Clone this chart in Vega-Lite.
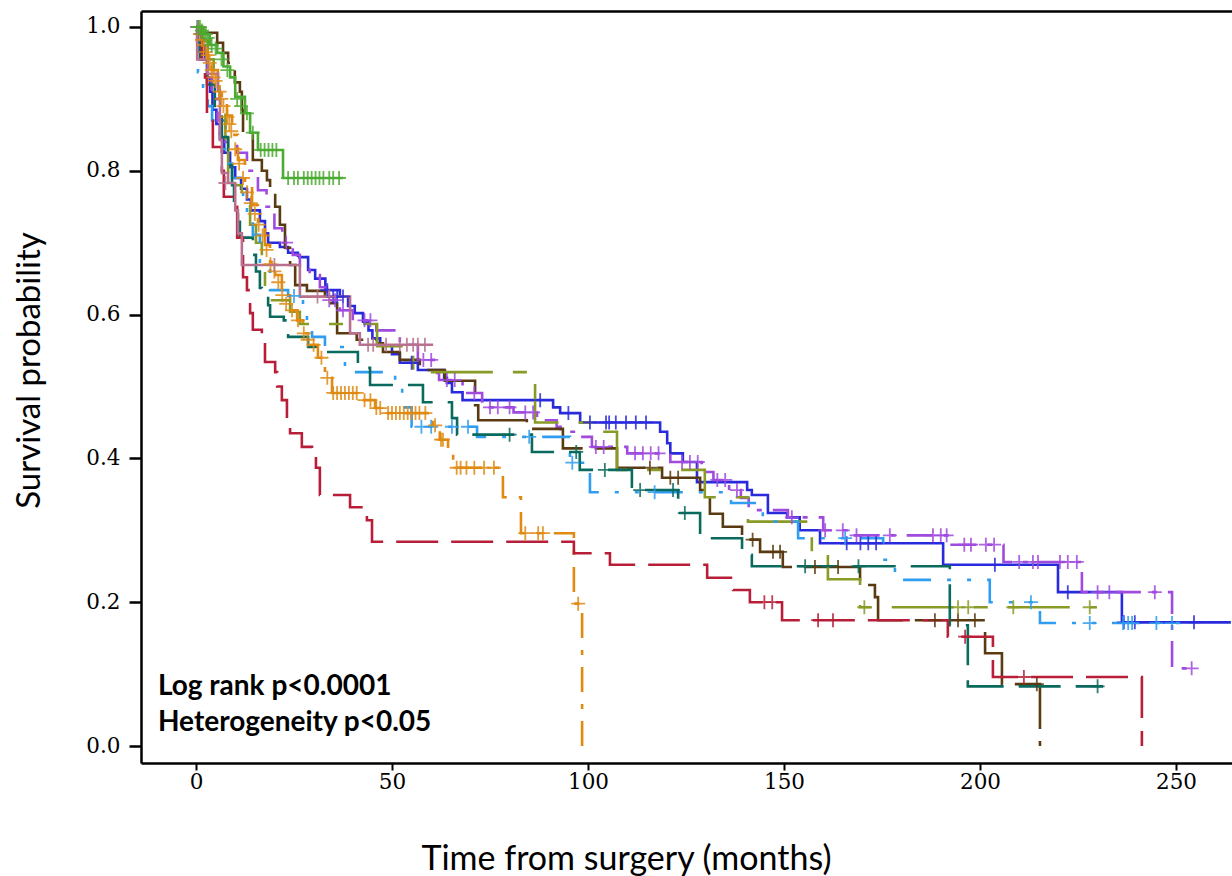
{
  "$schema": "https://vega.github.io/schema/vega-lite/v6.json",
  "width": 1091,
  "height": 752,
  "autosize": {"type": "none"},
  "padding": {"left": 141, "top": 11, "right": 0, "bottom": 113},
  "background": "white",
  "config": {
    "view": {"stroke": null},
    "axis": {"domainColor": "black", "domainWidth": 2.5, "tickColor": "black", "tickWidth": 2, "labelColor": "black", "titleColor": "black", "grid": false}
  },
  "datasets": {
    "curves": [
      {"g":"g1","t":0,"s":1.0},{"g":"g1","t":1,"s":0.99},{"g":"g1","t":1.5,"s":0.975},{"g":"g1","t":2.3,"s":0.955},{"g":"g1","t":2.8,"s":0.93},{"g":"g1","t":3.6,"s":0.91},{"g":"g1","t":4.2,"s":0.885},{"g":"g1","t":5.2,"s":0.865},{"g":"g1","t":6.1,"s":0.845},{"g":"g1","t":7.2,"s":0.825},{"g":"g1","t":8.7,"s":0.805},{"g":"g1","t":10,"s":0.79},{"g":"g1","t":11.5,"s":0.775},{"g":"g1","t":13,"s":0.76},{"g":"g1","t":14,"s":0.745},{"g":"g1","t":16.3,"s":0.73},{"g":"g1","t":17.6,"s":0.713},{"g":"g1","t":18.4,"s":0.70},{"g":"g1","t":21.4,"s":0.694},{"g":"g1","t":23.5,"s":0.686},{"g":"g1","t":26,"s":0.68},{"g":"g1","t":28.6,"s":0.662},{"g":"g1","t":30.4,"s":0.65},{"g":"g1","t":33,"s":0.634},{"g":"g1","t":36.7,"s":0.625},{"g":"g1","t":38.8,"s":0.612},{"g":"g1","t":40.5,"s":0.602},{"g":"g1","t":42.6,"s":0.59},{"g":"g1","t":44,"s":0.578},{"g":"g1","t":45,"s":0.567},{"g":"g1","t":47,"s":0.557},{"g":"g1","t":50,"s":0.545},{"g":"g1","t":52,"s":0.533},{"g":"g1","t":56.6,"s":0.523},{"g":"g1","t":63.3,"s":0.512},{"g":"g1","t":64,"s":0.505},{"g":"g1","t":65.3,"s":0.492},{"g":"g1","t":68,"s":0.481},{"g":"g1","t":91.1,"s":0.471},{"g":"g1","t":92.9,"s":0.463},{"g":"g1","t":98,"s":0.45},{"g":"g1","t":118.4,"s":0.437},{"g":"g1","t":120.2,"s":0.421},{"g":"g1","t":121,"s":0.407},{"g":"g1","t":124.2,"s":0.395},{"g":"g1","t":127.8,"s":0.367},{"g":"g1","t":140.6,"s":0.356},{"g":"g1","t":141.8,"s":0.349},{"g":"g1","t":145.9,"s":0.324},{"g":"g1","t":150.8,"s":0.318},{"g":"g1","t":154,"s":0.30},{"g":"g1","t":159.2,"s":0.282},{"g":"g1","t":190.6,"s":0.252},{"g":"g1","t":219.9,"s":0.214},{"g":"g1","t":236.2,"s":0.172},{"g":"g1","t":264,"s":0.172},

      {"g":"g2","t":0,"s":1.0},{"g":"g2","t":0.8,"s":0.99},{"g":"g2","t":1.5,"s":0.955},{"g":"g2","t":3,"s":0.93},{"g":"g2","t":4,"s":0.9},{"g":"g2","t":5.5,"s":0.87},{"g":"g2","t":7.5,"s":0.84},{"g":"g2","t":10.5,"s":0.825},{"g":"g2","t":13,"s":0.80},{"g":"g2","t":15.8,"s":0.773},{"g":"g2","t":18,"s":0.75},{"g":"g2","t":20,"s":0.72},{"g":"g2","t":22,"s":0.70},{"g":"g2","t":24.7,"s":0.683},{"g":"g2","t":26.5,"s":0.666},{"g":"g2","t":29,"s":0.655},{"g":"g2","t":31.6,"s":0.638},{"g":"g2","t":33.4,"s":0.62},{"g":"g2","t":36.7,"s":0.606},{"g":"g2","t":40,"s":0.592},{"g":"g2","t":46,"s":0.578},{"g":"g2","t":52,"s":0.558},{"g":"g2","t":56.6,"s":0.537},{"g":"g2","t":61.5,"s":0.519},{"g":"g2","t":62,"s":0.509},{"g":"g2","t":68,"s":0.491},{"g":"g2","t":73,"s":0.471},{"g":"g2","t":81,"s":0.464},{"g":"g2","t":87,"s":0.453},{"g":"g2","t":92,"s":0.444},{"g":"g2","t":93,"s":0.437},{"g":"g2","t":98,"s":0.43},{"g":"g2","t":101,"s":0.416},{"g":"g2","t":110,"s":0.407},{"g":"g2","t":121,"s":0.395},{"g":"g2","t":129,"s":0.381},{"g":"g2","t":132,"s":0.37},{"g":"g2","t":136,"s":0.356},{"g":"g2","t":139,"s":0.345},{"g":"g2","t":141,"s":0.328},{"g":"g2","t":151,"s":0.318},{"g":"g2","t":160,"s":0.30},{"g":"g2","t":167,"s":0.293},{"g":"g2","t":192.3,"s":0.28},{"g":"g2","t":206,"s":0.256},{"g":"g2","t":226,"s":0.214},{"g":"g2","t":249,"s":0.108},{"g":"g2","t":254.3,"s":0.108},

      {"g":"g3","t":0,"s":1.0},{"g":"g3","t":1.8,"s":0.992},{"g":"g3","t":5.4,"s":0.978},{"g":"g3","t":6.9,"s":0.964},{"g":"g3","t":8.2,"s":0.95},{"g":"g3","t":9.9,"s":0.923},{"g":"g3","t":11.2,"s":0.91},{"g":"g3","t":11.7,"s":0.885},{"g":"g3","t":12,"s":0.854},{"g":"g3","t":14.5,"s":0.815},{"g":"g3","t":16.8,"s":0.80},{"g":"g3","t":18.1,"s":0.787},{"g":"g3","t":18.9,"s":0.77},{"g":"g3","t":20.2,"s":0.75},{"g":"g3","t":21.4,"s":0.725},{"g":"g3","t":22.7,"s":0.693},{"g":"g3","t":24,"s":0.669},{"g":"g3","t":25.3,"s":0.641},{"g":"g3","t":28.3,"s":0.633},{"g":"g3","t":32.9,"s":0.616},{"g":"g3","t":36,"s":0.574},{"g":"g3","t":41,"s":0.565},{"g":"g3","t":46.2,"s":0.56},{"g":"g3","t":47.7,"s":0.548},{"g":"g3","t":52,"s":0.537},{"g":"g3","t":57.1,"s":0.523},{"g":"g3","t":63.5,"s":0.508},{"g":"g3","t":71.2,"s":0.474},{"g":"g3","t":72,"s":0.453},{"g":"g3","t":84.4,"s":0.441},{"g":"g3","t":93.6,"s":0.414},{"g":"g3","t":107.4,"s":0.387},{"g":"g3","t":118.9,"s":0.373},{"g":"g3","t":128.6,"s":0.356},{"g":"g3","t":131.1,"s":0.323},{"g":"g3","t":134.4,"s":0.305},{"g":"g3","t":139.3,"s":0.287},{"g":"g3","t":143.9,"s":0.27},{"g":"g3","t":149.7,"s":0.249},{"g":"g3","t":169.4,"s":0.224},{"g":"g3","t":173.2,"s":0.207},{"g":"g3","t":174,"s":0.175},{"g":"g3","t":201.3,"s":0.129},{"g":"g3","t":205.6,"s":0.086},{"g":"g3","t":215.3,"s":0.0},

      {"g":"g4","t":0,"s":1.0},{"g":"g4","t":1.5,"s":0.98},{"g":"g4","t":3,"s":0.955},{"g":"g4","t":4.5,"s":0.92},{"g":"g4","t":6,"s":0.88},{"g":"g4","t":7.5,"s":0.845},{"g":"g4","t":8.2,"s":0.797},{"g":"g4","t":10.5,"s":0.78},{"g":"g4","t":11.7,"s":0.76},{"g":"g4","t":13.8,"s":0.725},{"g":"g4","t":15.3,"s":0.70},{"g":"g4","t":16.8,"s":0.665},{"g":"g4","t":17.6,"s":0.62},{"g":"g4","t":24,"s":0.604},{"g":"g4","t":26.5,"s":0.587},{"g":"g4","t":46.2,"s":0.556},{"g":"g4","t":55.4,"s":0.52},{"g":"g4","t":86.5,"s":0.45},{"g":"g4","t":103.8,"s":0.437},{"g":"g4","t":107.4,"s":0.384},{"g":"g4","t":129.8,"s":0.346},{"g":"g4","t":140.8,"s":0.312},{"g":"g4","t":157.1,"s":0.27},{"g":"g4","t":161.2,"s":0.232},{"g":"g4","t":169.4,"s":0.193},{"g":"g4","t":229.8,"s":0.193},

      {"g":"g5","t":0,"s":1.0},{"g":"g5","t":0.5,"s":0.937},{"g":"g5","t":1.8,"s":0.91},{"g":"g5","t":3,"s":0.89},{"g":"g5","t":4.1,"s":0.87},{"g":"g5","t":4.8,"s":0.853},{"g":"g5","t":6,"s":0.83},{"g":"g5","t":7.4,"s":0.81},{"g":"g5","t":9.2,"s":0.79},{"g":"g5","t":11.2,"s":0.773},{"g":"g5","t":12,"s":0.764},{"g":"g5","t":13,"s":0.736},{"g":"g5","t":14.5,"s":0.711},{"g":"g5","t":16.3,"s":0.666},{"g":"g5","t":18.9,"s":0.634},{"g":"g5","t":23.5,"s":0.626},{"g":"g5","t":27.3,"s":0.60},{"g":"g5","t":28.3,"s":0.59},{"g":"g5","t":29.6,"s":0.569},{"g":"g5","t":32.9,"s":0.555},{"g":"g5","t":38,"s":0.52},{"g":"g5","t":50.8,"s":0.50},{"g":"g5","t":52.6,"s":0.471},{"g":"g5","t":55,"s":0.444},{"g":"g5","t":71.7,"s":0.43},{"g":"g5","t":95.4,"s":0.394},{"g":"g5","t":100.5,"s":0.353},{"g":"g5","t":136.5,"s":0.338},{"g":"g5","t":144.6,"s":0.312},{"g":"g5","t":153.6,"s":0.289},{"g":"g5","t":175.3,"s":0.259},{"g":"g5","t":178.3,"s":0.231},{"g":"g5","t":202.5,"s":0.20},{"g":"g5","t":215.3,"s":0.171},{"g":"g5","t":251,"s":0.171},

      {"g":"g6","t":0,"s":1.0},{"g":"g6","t":0.3,"s":0.98},{"g":"g6","t":1,"s":0.955},{"g":"g6","t":2.8,"s":0.92},{"g":"g6","t":4.8,"s":0.885},{"g":"g6","t":6.6,"s":0.847},{"g":"g6","t":8.2,"s":0.829},{"g":"g6","t":8.7,"s":0.808},{"g":"g6","t":9.2,"s":0.78},{"g":"g6","t":9.7,"s":0.745},{"g":"g6","t":10.7,"s":0.729},{"g":"g6","t":11.2,"s":0.707},{"g":"g6","t":14.5,"s":0.683},{"g":"g6","t":15.3,"s":0.66},{"g":"g6","t":16.3,"s":0.637},{"g":"g6","t":16.8,"s":0.63},{"g":"g6","t":18.4,"s":0.613},{"g":"g6","t":18.9,"s":0.597},{"g":"g6","t":22.4,"s":0.592},{"g":"g6","t":23.5,"s":0.569},{"g":"g6","t":28.6,"s":0.555},{"g":"g6","t":30.6,"s":0.548},{"g":"g6","t":41.3,"s":0.526},{"g":"g6","t":44.4,"s":0.502},{"g":"g6","t":57.9,"s":0.478},{"g":"g6","t":65.3,"s":0.456},{"g":"g6","t":66.6,"s":0.433},{"g":"g6","t":85.7,"s":0.409},{"g":"g6","t":97.9,"s":0.384},{"g":"g6","t":111.2,"s":0.356},{"g":"g6","t":123,"s":0.324},{"g":"g6","t":128.6,"s":0.289},{"g":"g6","t":139.3,"s":0.266},{"g":"g6","t":141.8,"s":0.25},{"g":"g6","t":192.3,"s":0.168},{"g":"g6","t":196.9,"s":0.083},{"g":"g6","t":231.4,"s":0.083},

      {"g":"g7","t":0,"s":1.0},{"g":"g7","t":1.5,"s":0.982},{"g":"g7","t":2.8,"s":0.961},{"g":"g7","t":4,"s":0.94},{"g":"g7","t":5.6,"s":0.918},{"g":"g7","t":6.6,"s":0.898},{"g":"g7","t":7.9,"s":0.877},{"g":"g7","t":9.2,"s":0.85},{"g":"g7","t":10.7,"s":0.815},{"g":"g7","t":12.5,"s":0.78},{"g":"g7","t":14.3,"s":0.752},{"g":"g7","t":15.8,"s":0.725},{"g":"g7","t":17.6,"s":0.697},{"g":"g7","t":18.9,"s":0.673},{"g":"g7","t":20.2,"s":0.655},{"g":"g7","t":21.9,"s":0.627},{"g":"g7","t":24,"s":0.606},{"g":"g7","t":25.8,"s":0.592},{"g":"g7","t":27.3,"s":0.574},{"g":"g7","t":29.1,"s":0.558},{"g":"g7","t":31.1,"s":0.54},{"g":"g7","t":32.9,"s":0.512},{"g":"g7","t":34.7,"s":0.491},{"g":"g7","t":41.8,"s":0.481},{"g":"g7","t":45.7,"s":0.47},{"g":"g7","t":48.2,"s":0.463},{"g":"g7","t":60.5,"s":0.446},{"g":"g7","t":62.2,"s":0.426},{"g":"g7","t":64.3,"s":0.409},{"g":"g7","t":65.6,"s":0.387},{"g":"g7","t":78.3,"s":0.346},{"g":"g7","t":82.9,"s":0.296},{"g":"g7","t":96.4,"s":0.198},{"g":"g7","t":98.5,"s":0.0},

      {"g":"g8","t":0,"s":1.0},{"g":"g8","t":1,"s":0.99},{"g":"g8","t":1.5,"s":0.955},{"g":"g8","t":2.3,"s":0.93},{"g":"g8","t":2.8,"s":0.87},{"g":"g8","t":4.3,"s":0.833},{"g":"g8","t":6.6,"s":0.80},{"g":"g8","t":7.1,"s":0.764},{"g":"g8","t":9.2,"s":0.75},{"g":"g8","t":10.5,"s":0.707},{"g":"g8","t":12,"s":0.652},{"g":"g8","t":13,"s":0.634},{"g":"g8","t":13.8,"s":0.602},{"g":"g8","t":14.5,"s":0.579},{"g":"g8","t":16.8,"s":0.569},{"g":"g8","t":17.6,"s":0.534},{"g":"g8","t":20.2,"s":0.52},{"g":"g8","t":20.7,"s":0.50},{"g":"g8","t":21.9,"s":0.481},{"g":"g8","t":23.2,"s":0.451},{"g":"g8","t":24,"s":0.435},{"g":"g8","t":27,"s":0.416},{"g":"g8","t":29.6,"s":0.402},{"g":"g8","t":30.6,"s":0.387},{"g":"g8","t":31.6,"s":0.349},{"g":"g8","t":39.3,"s":0.332},{"g":"g8","t":43.6,"s":0.314},{"g":"g8","t":44.9,"s":0.284},{"g":"g8","t":96.4,"s":0.268},{"g":"g8","t":105.6,"s":0.252},{"g":"g8","t":130.4,"s":0.234},{"g":"g8","t":137,"s":0.217},{"g":"g8","t":141.3,"s":0.20},{"g":"g8","t":149.5,"s":0.175},{"g":"g8","t":191.8,"s":0.152},{"g":"g8","t":203.3,"s":0.096},{"g":"g8","t":241.3,"s":0.0},

      {"g":"g9","t":0,"s":1.0},{"g":"g9","t":1,"s":0.995},{"g":"g9","t":2,"s":0.99},{"g":"g9","t":3.5,"s":0.975},{"g":"g9","t":5.4,"s":0.964},{"g":"g9","t":7,"s":0.945},{"g":"g9","t":8.7,"s":0.93},{"g":"g9","t":10,"s":0.903},{"g":"g9","t":12.5,"s":0.88},{"g":"g9","t":13.8,"s":0.853},{"g":"g9","t":15.8,"s":0.829},{"g":"g9","t":22.2,"s":0.79},{"g":"g9","t":37.5,"s":0.79},

      {"g":"g10","t":0,"s":1.0},{"g":"g10","t":0.3,"s":0.955},{"g":"g10","t":3,"s":0.935},{"g":"g10","t":5.6,"s":0.912},{"g":"g10","t":6.1,"s":0.843},{"g":"g10","t":6.6,"s":0.797},{"g":"g10","t":8.2,"s":0.783},{"g":"g10","t":10,"s":0.745},{"g":"g10","t":10.7,"s":0.713},{"g":"g10","t":11.7,"s":0.669},{"g":"g10","t":26.5,"s":0.625},{"g":"g10","t":39.3,"s":0.574},{"g":"g10","t":41.8,"s":0.558},{"g":"g10","t":60.5,"s":0.558}
    ],
    "censor": [
      {"g":"g1","t":0.5,"s":1.0},{"g":"g1","t":1.2,"s":0.99},{"g":"g1","t":33.5,"s":0.634},{"g":"g1","t":35,"s":0.625},{"g":"g1","t":36,"s":0.625},{"g":"g1","t":37.5,"s":0.625},{"g":"g1","t":55,"s":0.533},{"g":"g1","t":87.8,"s":0.481},{"g":"g1","t":95,"s":0.463},{"g":"g1","t":100.5,"s":0.45},{"g":"g1","t":104.6,"s":0.45},{"g":"g1","t":105.4,"s":0.45},{"g":"g1","t":107.1,"s":0.45},{"g":"g1","t":109.7,"s":0.45},{"g":"g1","t":112.2,"s":0.45},{"g":"g1","t":114.8,"s":0.45},{"g":"g1","t":166,"s":0.282},{"g":"g1","t":169.5,"s":0.282},{"g":"g1","t":171.5,"s":0.282},{"g":"g1","t":173.5,"s":0.282},{"g":"g1","t":203.8,"s":0.252},{"g":"g1","t":222.4,"s":0.214},{"g":"g1","t":236.7,"s":0.172},{"g":"g1","t":239.5,"s":0.172},{"g":"g1","t":254.6,"s":0.172},

      {"g":"g2","t":0.3,"s":1.0},{"g":"g2","t":23,"s":0.70},{"g":"g2","t":34,"s":0.62},{"g":"g2","t":35.5,"s":0.62},{"g":"g2","t":37.5,"s":0.606},{"g":"g2","t":43,"s":0.592},{"g":"g2","t":44.5,"s":0.592},{"g":"g2","t":58,"s":0.537},{"g":"g2","t":60,"s":0.537},{"g":"g2","t":64,"s":0.509},{"g":"g2","t":66,"s":0.509},{"g":"g2","t":71,"s":0.491},{"g":"g2","t":75,"s":0.471},{"g":"g2","t":77,"s":0.471},{"g":"g2","t":80,"s":0.471},{"g":"g2","t":84,"s":0.464},{"g":"g2","t":86,"s":0.464},{"g":"g2","t":102,"s":0.416},{"g":"g2","t":104,"s":0.416},{"g":"g2","t":112,"s":0.407},{"g":"g2","t":114,"s":0.407},{"g":"g2","t":116,"s":0.407},{"g":"g2","t":118,"s":0.407},{"g":"g2","t":124,"s":0.395},{"g":"g2","t":126,"s":0.395},{"g":"g2","t":128,"s":0.395},{"g":"g2","t":133,"s":0.37},{"g":"g2","t":135,"s":0.37},{"g":"g2","t":138,"s":0.356},{"g":"g2","t":152,"s":0.318},{"g":"g2","t":160.5,"s":0.30},{"g":"g2","t":165,"s":0.30},{"g":"g2","t":168.5,"s":0.293},{"g":"g2","t":177,"s":0.293},{"g":"g2","t":188,"s":0.293},{"g":"g2","t":190,"s":0.293},{"g":"g2","t":191.5,"s":0.293},{"g":"g2","t":196,"s":0.28},{"g":"g2","t":197.7,"s":0.28},{"g":"g2","t":201.5,"s":0.28},{"g":"g2","t":203.6,"s":0.28},{"g":"g2","t":210,"s":0.256},{"g":"g2","t":213.5,"s":0.256},{"g":"g2","t":214.8,"s":0.256},{"g":"g2","t":220.4,"s":0.256},{"g":"g2","t":222.4,"s":0.256},{"g":"g2","t":224.7,"s":0.256},{"g":"g2","t":230,"s":0.214},{"g":"g2","t":233,"s":0.214},{"g":"g2","t":244.6,"s":0.214},{"g":"g2","t":254,"s":0.108},

      {"g":"g3","t":115.8,"s":0.387},{"g":"g3","t":121,"s":0.373},{"g":"g3","t":123,"s":0.373},{"g":"g3","t":142,"s":0.287},{"g":"g3","t":147.2,"s":0.27},{"g":"g3","t":149,"s":0.27},{"g":"g3","t":157.9,"s":0.249},{"g":"g3","t":163.8,"s":0.249},{"g":"g3","t":188.5,"s":0.175},{"g":"g3","t":194.4,"s":0.175},{"g":"g3","t":198.7,"s":0.175},{"g":"g3","t":214.5,"s":0.086},

      {"g":"g4","t":170.5,"s":0.193},{"g":"g4","t":194.4,"s":0.193},{"g":"g4","t":197,"s":0.193},{"g":"g4","t":208.5,"s":0.193},{"g":"g4","t":228,"s":0.193},

      {"g":"g5","t":25,"s":0.626},{"g":"g5","t":57.5,"s":0.444},{"g":"g5","t":60,"s":0.444},{"g":"g5","t":65.3,"s":0.444},{"g":"g5","t":69.4,"s":0.444},{"g":"g5","t":85,"s":0.43},{"g":"g5","t":96,"s":0.394},{"g":"g5","t":117,"s":0.353},{"g":"g5","t":165.6,"s":0.289},{"g":"g5","t":213,"s":0.20},{"g":"g5","t":228,"s":0.171},{"g":"g5","t":236.5,"s":0.171},{"g":"g5","t":237.8,"s":0.171},{"g":"g5","t":238.8,"s":0.171},{"g":"g5","t":245,"s":0.171},{"g":"g5","t":249,"s":0.171},

      {"g":"g6","t":80,"s":0.433},{"g":"g6","t":97,"s":0.409},{"g":"g6","t":104.3,"s":0.384},{"g":"g6","t":113.3,"s":0.356},{"g":"g6","t":121.7,"s":0.356},{"g":"g6","t":124.7,"s":0.324},{"g":"g6","t":155.4,"s":0.25},{"g":"g6","t":169,"s":0.25},{"g":"g6","t":230,"s":0.083},

      {"g":"g7","t":0.5,"s":1.0},{"g":"g7","t":1,"s":0.99},{"g":"g7","t":1.5,"s":0.982},{"g":"g7","t":2,"s":0.975},{"g":"g7","t":2.5,"s":0.965},{"g":"g7","t":3,"s":0.961},{"g":"g7","t":3.5,"s":0.95},{"g":"g7","t":4,"s":0.94},{"g":"g7","t":4.5,"s":0.93},{"g":"g7","t":5,"s":0.925},{"g":"g7","t":6,"s":0.91},{"g":"g7","t":6.5,"s":0.9},{"g":"g7","t":7,"s":0.89},{"g":"g7","t":8,"s":0.875},{"g":"g7","t":8.5,"s":0.865},{"g":"g7","t":9,"s":0.855},{"g":"g7","t":10,"s":0.83},{"g":"g7","t":11,"s":0.81},{"g":"g7","t":12,"s":0.79},{"g":"g7","t":13,"s":0.77},{"g":"g7","t":14,"s":0.755},{"g":"g7","t":15,"s":0.74},{"g":"g7","t":16,"s":0.725},{"g":"g7","t":17,"s":0.71},{"g":"g7","t":18,"s":0.69},{"g":"g7","t":19,"s":0.67},{"g":"g7","t":20,"s":0.66},{"g":"g7","t":21,"s":0.645},{"g":"g7","t":22,"s":0.627},{"g":"g7","t":23,"s":0.615},{"g":"g7","t":24.5,"s":0.606},{"g":"g7","t":26,"s":0.592},{"g":"g7","t":27.5,"s":0.574},{"g":"g7","t":28.5,"s":0.565},{"g":"g7","t":30,"s":0.558},{"g":"g7","t":32,"s":0.54},{"g":"g7","t":33.5,"s":0.512},{"g":"g7","t":35,"s":0.491},{"g":"g7","t":36,"s":0.491},{"g":"g7","t":37,"s":0.491},{"g":"g7","t":38,"s":0.491},{"g":"g7","t":39,"s":0.491},{"g":"g7","t":40,"s":0.491},{"g":"g7","t":41,"s":0.491},{"g":"g7","t":43,"s":0.481},{"g":"g7","t":44.5,"s":0.481},{"g":"g7","t":46,"s":0.47},{"g":"g7","t":47,"s":0.47},{"g":"g7","t":49,"s":0.463},{"g":"g7","t":50,"s":0.463},{"g":"g7","t":51,"s":0.463},{"g":"g7","t":52,"s":0.463},{"g":"g7","t":53,"s":0.463},{"g":"g7","t":54,"s":0.463},{"g":"g7","t":55,"s":0.463},{"g":"g7","t":56,"s":0.463},{"g":"g7","t":57,"s":0.463},{"g":"g7","t":58.5,"s":0.463},{"g":"g7","t":61,"s":0.446},{"g":"g7","t":62.5,"s":0.426},{"g":"g7","t":63,"s":0.426},{"g":"g7","t":66.5,"s":0.387},{"g":"g7","t":67.5,"s":0.387},{"g":"g7","t":69,"s":0.387},{"g":"g7","t":71,"s":0.387},{"g":"g7","t":73.5,"s":0.387},{"g":"g7","t":76,"s":0.387},{"g":"g7","t":84,"s":0.296},{"g":"g7","t":87.3,"s":0.296},{"g":"g7","t":88.5,"s":0.296},{"g":"g7","t":97.5,"s":0.198},

      {"g":"g8","t":145,"s":0.20},{"g":"g8","t":147,"s":0.20},{"g":"g8","t":158.7,"s":0.175},{"g":"g8","t":162.5,"s":0.175},{"g":"g8","t":196.2,"s":0.152},{"g":"g8","t":211.2,"s":0.096},

      {"g":"g9","t":0.5,"s":1.0},{"g":"g9","t":1,"s":1.0},{"g":"g9","t":1.5,"s":0.995},{"g":"g9","t":2,"s":0.99},{"g":"g9","t":2.5,"s":0.99},{"g":"g9","t":3,"s":0.985},{"g":"g9","t":4,"s":0.975},{"g":"g9","t":5,"s":0.97},{"g":"g9","t":6.5,"s":0.955},{"g":"g9","t":8,"s":0.94},{"g":"g9","t":10.5,"s":0.9},{"g":"g9","t":11.5,"s":0.89},{"g":"g9","t":13,"s":0.88},{"g":"g9","t":14.5,"s":0.853},{"g":"g9","t":16.5,"s":0.829},{"g":"g9","t":17.5,"s":0.829},{"g":"g9","t":18.5,"s":0.829},{"g":"g9","t":19.5,"s":0.829},{"g":"g9","t":20.5,"s":0.829},{"g":"g9","t":23.5,"s":0.79},{"g":"g9","t":25,"s":0.79},{"g":"g9","t":26,"s":0.79},{"g":"g9","t":27.5,"s":0.79},{"g":"g9","t":28.5,"s":0.79},{"g":"g9","t":29.5,"s":0.79},{"g":"g9","t":30.5,"s":0.79},{"g":"g9","t":31.5,"s":0.79},{"g":"g9","t":32.5,"s":0.79},{"g":"g9","t":34,"s":0.79},{"g":"g9","t":35,"s":0.79},{"g":"g9","t":36.5,"s":0.79},

      {"g":"g10","t":7.5,"s":0.783},{"g":"g10","t":20,"s":0.669},{"g":"g10","t":31,"s":0.625},{"g":"g10","t":34,"s":0.625},{"g":"g10","t":43.9,"s":0.558},{"g":"g10","t":45.2,"s":0.558},{"g":"g10","t":48.5,"s":0.558},{"g":"g10","t":52,"s":0.558},{"g":"g10","t":53.8,"s":0.558},{"g":"g10","t":55.4,"s":0.558},{"g":"g10","t":56.6,"s":0.558},{"g":"g10","t":58.4,"s":0.558}
    ],
    "notes": [
      {"t": -9.7, "s": 0.0709, "label": "Log rank p<0.0001"},
      {"t": -9.7, "s": 0.0209, "label": "Heterogeneity p<0.05"}
    ]
  },
  "layer": [
    {
      "data": {"name": "curves"},
      "mark": {"type": "line", "interpolate": "step-after", "strokeWidth": 2.6, "clip": true},
      "encoding": {
        "x": {"field": "t", "type": "quantitative",
          "scale": {"domain": [-14.03, 264.29], "nice": false, "zero": false},
          "axis": {"orient": "bottom", "values": [0, 50, 100, 150, 200, 250], "format": "d",
            "labelFont": "DejaVu Serif", "labelFontSize": 21.5, "tickSize": 7, "labelPadding": 1,
            "title": "Time from surgery (months)", "titleFont": "Lato", "titleFontSize": 34, "titleFontWeight": "normal",
            "titleX": 485, "titleY": 106, "titleAlign": "center", "titleBaseline": "alphabetic"}},
        "y": {"field": "s", "type": "quantitative",
          "scale": {"domain": [-0.02364, 1.02225], "nice": false, "zero": false},
          "axis": {"values": [0, 0.2, 0.4, 0.6, 0.8, 1.0], "format": ".1f",
            "labelFont": "DejaVu Serif", "labelFontSize": 21.5, "tickSize": 12, "tickWidth": 2.5, "labelPadding": 9,
            "title": "Survival probability", "titleFont": "Lato", "titleFontSize": 33, "titleFontWeight": "normal",
            "titleX": -112, "titleY": 359, "titleAngle": -90, "titleAlign": "center", "titleBaseline": "middle"}},
        "color": {"field": "g", "type": "nominal", "legend": null,
          "scale": {"domain": ["g1","g2","g3","g4","g5","g6","g7","g8","g9","g10"],
            "range": ["#2a2add","#a04ae0","#5a3a10","#8a9a26","#2f9df0","#0a6a5e","#e08a12","#b81e38","#4cab32","#b8708e"]}},
        "strokeDash": {"field": "g", "type": "nominal", "legend": null,
          "scale": {"domain": ["g1","g2","g3","g4","g5","g6","g7","g8","g9","g10"],
            "range": [[1,0],[26,11,5,11],[70,12],[62,20,14,20],[28,16,4,16,4,16],[42,15],[25,12,5,12],[42,13],[1,0],[1,0]]}}
      }
    },
    {
      "data": {"name": "censor"},
      "mark": {"type": "point", "shape": "M-1,0L1,0M0,-1L0,1", "filled": false, "size": 196, "strokeWidth": 1.8, "opacity": 0.85, "clip": true},
      "encoding": {
        "x": {"field": "t", "type": "quantitative", "axis": null},
        "y": {"field": "s", "type": "quantitative"},
        "color": {"field": "g", "type": "nominal", "legend": null}
      }
    },
    {
      "data": {"name": "notes"},
      "mark": {"type": "text", "align": "left", "baseline": "alphabetic", "font": "Lato", "fontWeight": "bold", "fontSize": 28, "color": "black"},
      "encoding": {
        "x": {"field": "t", "type": "quantitative", "axis": {"orient": "top", "labels": false, "ticks": false, "title": null, "domain": true}},
        "y": {"field": "s", "type": "quantitative"},
        "text": {"field": "label"}
      }
    }
  ],
  "resolve": {"axis": {"x": "independent"}}
}
